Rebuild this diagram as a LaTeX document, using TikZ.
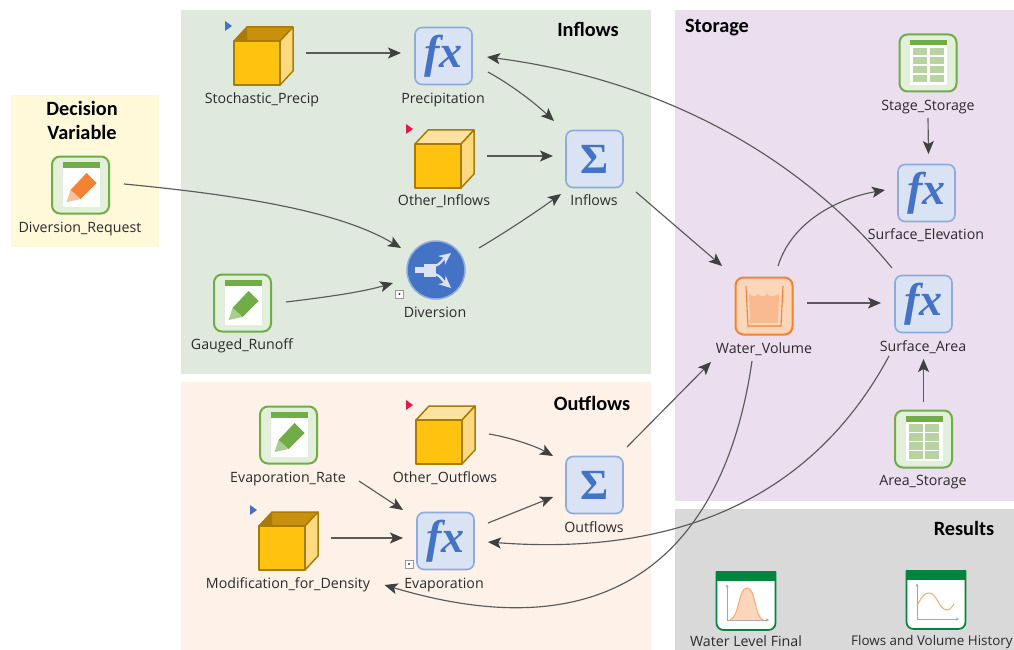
\documentclass[tikz,border=0pt]{standalone}
\usepackage{fontspec}
\setmainfont{Open Sans}
\newfontfamily\titlefont{Carlito}
\newfontfamily\fxfont{Liberation Serif}
\newfontfamily\sigfont{Liberation Serif}
\usetikzlibrary{arrows.meta}
\definecolor{inbg}{HTML}{DFE9DE}
\definecolor{outbg}{HTML}{FDF1E8}
\definecolor{stbg}{HTML}{EBDEEE}
\definecolor{resbg}{HTML}{D9D9D9}
\definecolor{decbg}{HTML}{FFF8D9}
\definecolor{ink}{HTML}{2B2B2B}
\definecolor{wire}{HTML}{5A5A5A}
\definecolor{head}{HTML}{404040}
\definecolor{fxblue}{HTML}{4472C4}
\definecolor{fxfill}{HTML}{D9E3F4}
\definecolor{fxline}{HTML}{8FAADC}
\definecolor{grn}{HTML}{70AD47}
\definecolor{grnfill}{HTML}{E2EFDA}
\definecolor{grncell}{HTML}{B7D39F}
\definecolor{org}{HTML}{F58233}
\definecolor{orgl}{HTML}{F8C09A}
\definecolor{orgfill}{HTML}{FBD6BA}
\definecolor{cubef}{HTML}{FFC20E}
\definecolor{cubel}{HTML}{A87C00}
\definecolor{cubes}{HTML}{FFD97F}
\definecolor{cubed}{HTML}{C8900C}
\definecolor{resg}{HTML}{00853E}
\definecolor{crim}{HTML}{E6194B}
\tikzset{
  x=1pt,y=-1pt,
  lbl/.style={font=\fontsize{14.2}{16}\selectfont,text=ink,inner sep=0,text height=10.5pt,text depth=3pt,yshift=-1.8pt},
  ttl/.style={font=\titlefont\bfseries\fontsize{20.3}{22}\selectfont,text=black,inner sep=0},
  hid/.style={draw=none,minimum size=58pt,inner sep=0},
  fxbox/.style={draw=fxline,fill=fxfill,line width=1.6pt,rounded corners=7pt,minimum size=57pt,inner sep=0},
  grnbox/.style={draw=grn,fill=grnfill,line width=2pt,rounded corners=8pt,minimum size=57pt,inner sep=0},
  orgbox/.style={draw=org,fill=orgfill,line width=2pt,rounded corners=8pt,minimum size=57pt,inner sep=0},
  wirel/.style={draw=wire,line width=1.15pt,-{Stealth[length=13pt,width=11pt,inset=3pt,color=head]}},
  cubeline/.style={draw=cubel,line width=1.5pt,line join=round}
}
\newcommand{\fxnode}[3]{\node[fxbox] (#1) at (#2,#3) {\fxfont\bfseries\itshape\fontsize{46}{46}\selectfont\textcolor{fxblue}{fx}};}
\newcommand{\signode}[3]{\node[fxbox] (#1) at (#2,#3) {\sigfont\bfseries\fontsize{43}{43}\selectfont\textcolor{fxblue}{Σ}};}
\newcommand{\opencube}[3]{%
 \node[hid] (#1) at (#2,#3) {};
 \begin{scope}[shift={(#2,#3)}]
  \fill[cubed] (-29.5,-15)--(-16.5,-29)--(29.5,-29)--(16.5,-15)--cycle;
  \fill[cubel] (-29.5,-15)--(-16.5,-29)--(-16.5,-15)--cycle;
  \draw[cubeline,fill=cubes] (16.5,-15)--(29.5,-29)--(29.5,15)--(16.5,29)--cycle;
  \draw[cubeline] (-29.5,-15)--(-16.5,-29)--(29.5,-29);
  \draw[cubeline,fill=cubef] (-29.5,-15) rectangle (16.5,29);
 \end{scope}}
\newcommand{\closedcube}[3]{%
 \node[hid] (#1) at (#2,#3) {};
 \begin{scope}[shift={(#2,#3)}]
  \draw[cubeline,fill=cubes!75!white] (-29.5,-15)--(-16.5,-29)--(29.5,-29)--(16.5,-15)--cycle;
  \draw[cubeline,fill=cubes] (16.5,-15)--(29.5,-29)--(29.5,15)--(16.5,29)--cycle;
  \draw[cubeline,fill=cubef] (-29.5,-15) rectangle (16.5,29);
 \end{scope}}
\newcommand{\sheet}{%
  \fill[white] (-18,-23) rectangle (19,22);
  \fill[grn] (-18,-23) rectangle (19,-17.5);}
\newcommand{\pencil}[5]{% name x y body tip
 \node[grnbox] (#1) at (#2,#3) {};
 \begin{scope}[shift={(#2,#3)}]
  \sheet
  \fill[#4] (-10,5)--(6,-12)--(16,-2)--(0,14)--cycle;
  \fill[#5] (-10,5)--(0,14)--(-14,17)--cycle;
 \end{scope}}
\newcommand{\tablenode}[3]{%
 \node[grnbox] (#1) at (#2,#3) {};
 \begin{scope}[shift={(#2,#3)}]
  \sheet
  \foreach \ry in {-15,-6,3,12}{
    \fill[grncell] (-15,\ry) rectangle (-1,\ry+7.5);
    \fill[grncell] (1.5,\ry) rectangle (15.5,\ry+7.5);}
 \end{scope}}
\newcommand{\tri}[3]{\fill[#3] (#1,#2)--(#1+7,#2+5)--(#1,#2+10)--cycle;}
\newcommand{\dotbox}[2]{\draw[draw=gray!80,fill=white,line width=.7pt] (#1,#2) rectangle (#1+8,#2+8); \fill[black!75] (#1+4,#2+4) circle (1.1);}
\newcommand{\resbox}[3]{%
 \node[hid] (#1) at (#2,#3) {};
 \begin{scope}[shift={(#2,#3)}]
  \draw[draw=resg,fill=white,line width=1.7pt,rounded corners=7pt] (-29.5,-29) -- (-29.5,29.5) -- (29.5,29.5) -- (29.5,-29);
  \fill[resg] (-30.3,-29.5) rectangle (30.3,-20);
  \draw[gray!70,line width=.8pt,-{Stealth[length=3pt,width=3pt]}] (-19,19.5)--(-19,-16);
  \draw[gray!70,line width=.8pt,-{Stealth[length=3pt,width=3pt]}] (-19,19.5)--(23,19.5);
 \end{scope}}
\begin{document}
\begin{tikzpicture}
\clip (0,0) rectangle (1014,650);
\useasboundingbox (0,0) rectangle (1014,650);
\fill[white] (0,0) rectangle (1014,650);
% panels
\fill[inbg] (181,10) rectangle (651,374);
\fill[outbg] (181,382) rectangle (651,650);
\fill[stbg] (675,10) rectangle (1014,501);
\fill[resbg] (675,509) rectangle (1014,650);
\fill[decbg] (11,95) rectangle (159,247);
% titles
\node[ttl] (tin) at (588,29) {Inflows};
\node[ttl] (tout) at (592,403) {Outflows};
\node[ttl] (tst) at (717,28) {Storage};
\node[ttl] (tres) at (964,528) {Results};
\node[ttl,align=center,font=\titlefont\bfseries\fontsize{20.3}{23.5}\selectfont] (tdec) at (82,120.5) {Decision\\Variable};
% icons
\opencube{stoch}{263.5}{56}
\tri{225}{21}{fxblue}
\fxnode{precip}{443.5}{56}
\closedcube{othin}{444.5}{159}
\tri{406}{124}{crim}
\signode{inflows}{594.5}{159}
\pencil{divreq}{80.5}{185}{org}{orgl}
\pencil{gauged}{242.5}{303}{grn}{grn!60!white}
\node[circle,draw=fxline,fill=fxblue,line width=1.5pt,minimum size=58pt,inner sep=0] (divers) at (436,270) {};
\begin{scope}[shift={(436,270)}]
 \fill[fxfill] (-21,-3) rectangle (-10,3);
 \fill[fxfill] (-12,-6.5) rectangle (0,6.5);
 \draw[fxfill,line width=2.2pt,-{Stealth[length=12pt,width=11pt]}] (-1,-4) .. controls (5,-6) and (6,-10) .. (15,-17);
 \draw[fxfill,line width=2.2pt,-{Stealth[length=12pt,width=11pt]}] (-1,4) .. controls (5,6) and (6,10) .. (15,18);
\end{scope}
\dotbox{395.5}{290}
\node[orgbox] (water) at (764,306) {};
\begin{scope}[shift={(764,306)}]
 \fill[org!55!white] (-15,-12) .. controls (-11,-9) and (-9,-9) .. (-6,-12) .. controls (-3,-9) and (0,-9) .. (3,-12) .. controls (6,-9) and (9,-9) .. (15,-12) -- (14,17) -- (-14,17) -- cycle;
 \draw[org,line width=1.1pt] (-18,-20) -- (-16,20) -- (17,20) -- (19,-20);
\end{scope}
\fxnode{area}{923.5}{304}
\tablenode{stage}{928}{63}
\fxnode{elev}{926.5}{193}
\tablenode{areast}{923.5}{439}
\closedcube{othout}{445.5}{435}
\tri{406}{400}{crim}
\signode{outflows}{594.5}{485}
\fxnode{evap}{445.5}{541}
\pencil{evrate}{288.5}{435}{grn}{grn!60!white}
\opencube{modif}{288.5}{541}
\tri{250}{505}{fxblue}
\dotbox{405}{560}
% result icons
\resbox{wlf}{746}{600.5}
\fill[orgfill] (730,620) .. controls (740,616) and (738,588) .. (747,588) .. controls (756,588) and (754,616) .. (763,620) -- cycle;
\draw[org!70!white,line width=1pt] (730,620) .. controls (740,616) and (738,588) .. (747,588) .. controls (756,588) and (754,616) .. (763,620);
\resbox{fvh}{936}{599.5}
\draw[org!70!white,line width=1pt] (917,606) .. controls (921,597) and (925,593) .. (929,593) .. controls (937,593) and (939,610) .. (947,610) .. controls (950,610) and (952,607) .. (954,604);
% labels
\node[lbl] (l1) at (262,98) {Stochastic\_Precip};
\node[lbl] (l2) at (443,98) {Precipitation};
\node[lbl] (l3) at (444,200) {Other\_Inflows};
\node[lbl] (l4) at (594,200) {Inflows};
\node[lbl] (l5) at (80,227) {Diversion\_Request};
\node[lbl] (l6) at (242,344) {Gauged\_Runoff};
\node[lbl] (l7) at (435,312) {Diversion};
\node[lbl] (l8) at (288,477) {Evaporation\_Rate};
\node[lbl] (l9) at (445,477) {Other\_Outflows};
\node[lbl] (l10) at (594,527) {Outflows};
\node[lbl] (l11) at (288,583) {Modification\_for\_Density};
\node[lbl] (l12) at (444,583) {Evaporation};
\node[lbl] (l13) at (764,348) {Water\_Volume};
\node[lbl] (l14) at (923,346) {Surface\_Area};
\node[lbl] (l15) at (923,480) {Area\_Storage};
\node[lbl] (l16) at (926,234) {Surface\_Elevation};
\node[lbl] (l17) at (928,105) {Stage\_Storage};
\node[lbl] (l18) at (746,641) {Water Level Final};
\node[lbl,anchor=west,font=\fontsize{13.4}{16}\selectfont] (l19) at (851,640) {Flows and Volume History};
% connectors
\draw[wirel] ([shift={(42.5,-3)}]stoch.center) -- ([shift={(-42.5,-3)}]precip.center);
\draw[wirel] ([shift={(44.5,16)}]precip.center) .. controls ([shift={(66,28)}]precip.center) and ([shift={(88,44)}]precip.center) .. ([shift={(-40.5,-38)}]inflows.center);
\draw[wirel] ([shift={(42.5,-3)}]othin.center) -- ([shift={(-41.5,-3)}]inflows.center);
\draw[wirel] ([shift={(43,-22)}]divers.center) .. controls ([shift={(70,-38)}]divers.center) and ([shift={(100,-58)}]divers.center) .. ([shift={(-33.5,35)}]inflows.center);
\draw[wirel] ([shift={(43.5,-1)}]divreq.center) .. controls ([shift={(180,12)}]divreq.center) and ([shift={(265,30)}]divreq.center) .. ([shift={(-35,-22)}]divers.center);
\draw[wirel] ([shift={(43.5,-1)}]gauged.center) .. controls ([shift={(85,-6)}]gauged.center) and ([shift={(120,-11)}]gauged.center) .. ([shift={(-43,13)}]divers.center);
\draw[wirel] ([shift={(41.5,33)}]inflows.center) -- ([shift={(-42,-40)}]water.center);
\draw[wirel] ([shift={(14,-40)}]water.center) .. controls ([shift={(28,-85)}]water.center) and ([shift={(75,-108)}]water.center) .. ([shift={(-41.5,-3)}]elev.center);
\draw[wirel] ([shift={(-31.5,-36)}]area.center) .. controls ([shift={(-125,-150)}]area.center) and ([shift={(-265,-225)}]area.center) .. ([shift={(43.5,1)}]precip.center);
\draw[wirel] ([shift={(43,-3)}]water.center) -- ([shift={(-42.5,-1)}]area.center);
\draw[wirel] ([shift={(0,55)}]stage.center) -- ([shift={(2,-39)}]elev.center);
\draw[wirel] ([shift={(0,-37)}]areast.center) -- ([shift={(0,55)}]area.center);
\draw[wirel] ([shift={(-34.5,52)}]area.center) .. controls ([shift={(-95,165)}]area.center) and ([shift={(-210,255)}]area.center) .. ([shift={(42.5,1)}]evap.center);
\draw[wirel] ([shift={(-12,55)}]water.center) .. controls ([shift={(-35,215)}]water.center) and ([shift={(-125,355)}]water.center) .. ([shift={(96,44)}]modif.center);
\draw[wirel] ([shift={(32.5,-38)}]outflows.center) -- ([shift={(-53,56)}]water.center);
\draw[wirel] ([shift={(43.5,-1)}]othout.center) .. controls ([shift={(62,2)}]othout.center) and ([shift={(88,10)}]othout.center) .. ([shift={(-41.5,-29)}]outflows.center);
\draw[wirel] ([shift={(42.5,-18)}]evap.center) -- ([shift={(-41.5,12)}]outflows.center);
\draw[wirel] ([shift={(70.5,46)}]evrate.center) -- ([shift={(-42.5,-31)}]evap.center);
\draw[wirel] ([shift={(42.5,-3)}]modif.center) -- ([shift={(-42.5,-3)}]evap.center);
\end{tikzpicture}
\end{document}
